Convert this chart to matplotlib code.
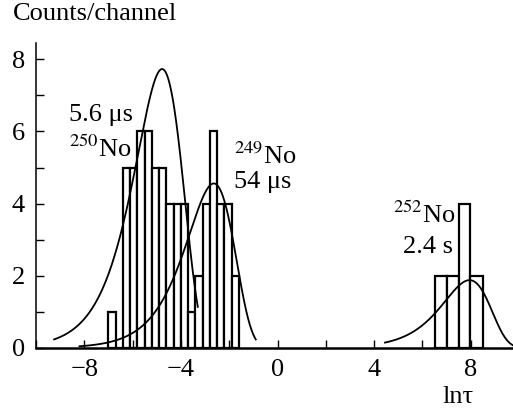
import matplotlib
matplotlib.use("Agg")
import matplotlib.pyplot as plt
import numpy as np
from matplotlib.ticker import MultipleLocator
from matplotlib.transforms import blended_transform_factory

# ---- histogram data (bin left edges, widths, counts per channel) ----------
no250_left = [-7.0, -6.7, -6.4, -6.1, -5.8, -5.5, -5.2, -4.9, -4.6, -4.3, -4.0, -3.7]
no250_counts = [1, 0, 5, 5, 6, 6, 5, 5, 4, 4, 4, 1]
no250_width = 0.3

no249_left = [-3.4, -3.1, -2.8, -2.5, -2.2, -1.9]
no249_counts = [2, 4, 6, 4, 4, 2]
no249_width = 0.3

no252_edges = [6.5, 7.0, 7.5, 7.95, 8.5]
no252_counts = [2, 2, 4, 2]

# ---- fitted decay curves in ln(t): peak position, peak height, x range ----
curve_peak_x = [-4.78, -2.64, 7.95]
curve_peak_y = [7.73, 4.56, 1.88]
curve_from = [-9.25, -8.2, 4.45]
curve_to = [-3.3, -0.9, 9.75]

labels = ["5.6 \u03bcs", r"$^{\mathrm{250}}$No", r"$^{\mathrm{249}}$No", "54 \u03bcs",
          r"$^{\mathrm{252}}$No", "2.4 s"]
label_x = [-8.62, -8.62, -1.81, -1.81, 4.78, 5.20]
label_y = [6.30, 5.30, 5.11, 4.42, 3.45, 2.62]

plt.rcParams["font.family"] = ["Liberation Serif", "DejaVu Serif"]
plt.rcParams["mathtext.fontset"] = "stix"
FS = 19


def decay(x, center, height):
    u = np.exp(x - center)
    return height * np.e * u * np.exp(-u)


fig = plt.figure(figsize=(5.13, 4.11), dpi=100)
ax = fig.add_axes([0.0702, 0.1533, 0.9298, 0.742])

bar_kw = dict(align="edge", facecolor="white", edgecolor="black", linewidth=1.6)
ax.bar(no250_left, no250_counts, width=no250_width, **bar_kw)
ax.bar(no249_left, no249_counts, width=no249_width, **bar_kw)
ax.bar(no252_edges[:-1], no252_counts, width=np.diff(no252_edges), **bar_kw)

for cx, cy, x0, x1 in zip(curve_peak_x, curve_peak_y, curve_from, curve_to):
    xs = np.linspace(x0, x1, 300)
    ax.plot(xs, decay(xs, cx, cy), color="black", lw=1.3)

for t, x, y in zip(labels, label_x, label_y):
    ax.text(x, y, t, fontsize=FS, ha="left", va="baseline")

ax.set_xlim(-10, 9.75)
ax.set_ylim(0, 8.45)
for side in ("top", "right"):
    ax.spines[side].set_visible(False)
ax.spines["bottom"].set_linewidth(1.8)
ax.spines["left"].set_linewidth(1.1)

ax.xaxis.set_major_locator(MultipleLocator(4))
ax.xaxis.set_minor_locator(MultipleLocator(2))
ax.yaxis.set_major_locator(MultipleLocator(2))
ax.yaxis.set_minor_locator(MultipleLocator(1))
ax.set_xticks([-8, -4, 0, 4, 8])
ax.set_xticklabels(["\u22128", "\u22124", "0", "4", "8"])
ax.tick_params(axis="both", which="both", direction="in", labelsize=FS, width=1.0)
ax.tick_params(axis="x", which="both", length=6, pad=8)
ax.tick_params(axis="y", which="both", length=6, pad=8)

trans = blended_transform_factory(ax.transData, ax.transAxes)
ax.text(7.46, -0.16, "ln\u03c4", transform=trans, fontsize=FS, ha="center", va="center")
fig.text(0.025, 0.965, "Counts/channel", fontsize=FS, ha="left", va="center")

fig.savefig("out.png", dpi=100)
